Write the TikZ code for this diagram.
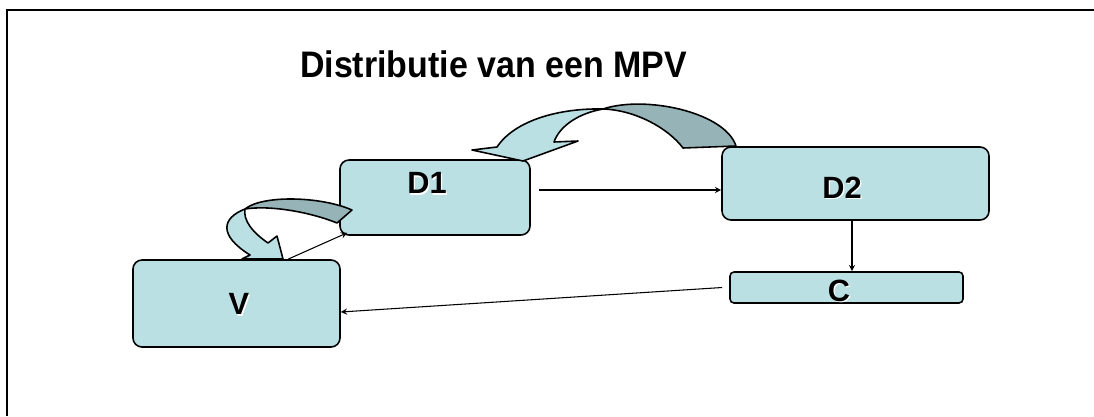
\documentclass[tikz,border=0pt]{standalone}
\usepackage{fontspec}
\setmainfont{Liberation Sans}
\usepackage{tikz}
\usetikzlibrary{arrows}
\definecolor{boxfill}{RGB}{186,224,228}
\definecolor{ribbon}{RGB}{150,180,183}
\tikzstyle{box} = [rectangle, rounded corners=1.8mm, line width=0.9pt, draw=black, fill=boxfill, inner sep=0pt]
\tikzstyle{boxtext} = [inner sep=0pt, font=\fontsize{17.5}{21}\selectfont\bfseries]
\tikzstyle{arrow} = [line width=0.6pt, ->, >=stealth]
\tikzstyle{turnarrow} = [line width=0.9pt, draw=black, line join=round]
\newcommand{\litext}[1]{\rlap{\kern0.7pt\raisebox{-0.7pt}{\color{white}#1}}#1}

\begin{document}
\begin{tikzpicture}[x=0.2mm, y=-0.2mm]
      \useasboundingbox (0,0) rectangle (1094,416);
      % frame
      \draw[line width=1.1pt] (1094,10) -- (7,10) -- (7,416);
      \node (title) at (493.5,77) [anchor=base, inner sep=0pt, xscale=0.92, font=\fontsize{21}{25}\selectfont\bfseries] {Distributie van een MPV};

      \node (d1) at (435,197.5) [box, minimum width=38mm, minimum height=15mm] {};
      \node (d2) at (855.5,183.5) [box, minimum width=53.4mm, minimum height=14.6mm] {};
      \node (c) at (846.5,287.5) [box, rounded corners=0.8mm, minimum width=46.6mm, minimum height=6.2mm] {};
      \node (v) at (236.5,303.5) [box, minimum width=41.4mm, minimum height=17.4mm] {};
      \node (d1text) at ([shift={(-8,-13.5)}]d1.center) [boxtext] {\litext{D1}};
      \node (d2text) at ([shift={(-13.5,4.5)}]d2.center) [boxtext] {\litext{D2}};
      \node (ctext) at ([shift={(-7.5,4)}]c.center) [boxtext] {\litext{C}};
      \node (vtext) at ([shift={(2.5,1.5)}]v.center) [boxtext] {\litext{V}};

      \draw[arrow] ([shift={(8,-7.5)}]d1.east) coordinate (a) -- (a -| d2.west);
      \draw[arrow] ([xshift=-0.7mm]d2.south) -- ([xshift=-0.7mm]d2.south |- c.north);
      \draw[arrow] ([xshift=-1.4mm]c.west) -- ([yshift=-1.7mm]v.east);
      \draw[arrow] ([xshift=10.3mm]v.north) -- ([shift={(8,-3)}]d1.south west);

      % big turn D2 -> D1
      \filldraw[turnarrow, fill=ribbon] (603,109) .. controls (645,95) and (725,112) .. (736,146) -- (683,148)
                                   .. controls (668,128) and (635,110) .. (603,109) -- cycle;
      \filldraw[turnarrow, fill=boxfill] (603,109) .. controls (560,108) and (515,120) .. (497,147) -- (472,150) -- (523,161)
                                    -- (578,141) -- (554,142) .. controls (560,125) and (580,113) .. (603,109) -- cycle;
      % small turn D1 -> V
      \filldraw[turnarrow, fill=ribbon] (245,209) .. controls (262,195) and (320,196) .. (352,210) -- (337,223)
                                   .. controls (310,212) and (270,205) .. (245,209) -- cycle;
      \filldraw[turnarrow, fill=boxfill] (245,209) .. controls (222,218) and (218,235) .. (250,255) -- (242,259) -- (283,259)
                                    -- (277,236) -- (268,243) .. controls (252,232) and (243,220) .. (245,209) -- cycle;
\end{tikzpicture}
\end{document}
